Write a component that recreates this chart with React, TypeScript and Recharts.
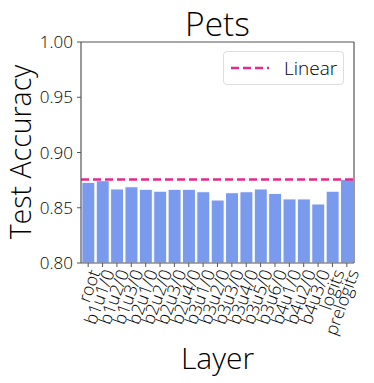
import React from 'react';
import { BarChart, Bar, XAxis, YAxis, ReferenceLine } from 'recharts';

const layers = ['root', 'b1u1/0', 'b1u2/0', 'b1u3/0', 'b2u1/0', 'b2u2/0', 'b2u3/0', 'b2u4/0', 'b3u1/0', 'b3u2/0', 'b3u3/0', 'b3u4/0', 'b3u5/0', 'b3u6/0', 'b4u1/0', 'b4u2/0', 'b4u3/0', 'logits', 'prelogits'];
const accuracy = [0.873, 0.8745, 0.867, 0.869, 0.8667, 0.865, 0.8667, 0.8667, 0.8645, 0.857, 0.8636, 0.8645, 0.867, 0.863, 0.858, 0.858, 0.8534, 0.865, 0.8755];
const linearAccuracy = 0.8755;
const yTicks = [0.8, 0.85, 0.9, 0.95, 1.0];

const data = layers.map((name, i) => ({ name, acc: accuracy[i] }));

const FONT = '"Open Sans", sans-serif';
const AXIS = '#555';
const BAR = '#7a9aed';
const PINK = '#e7298a';

const XTick = (props: any) => {
  const { x, y, payload } = props;
  return (
    <g transform={`translate(${x + 3},${y})`}>
      <text
        x={0}
        y={0}
        dy={10}
        textAnchor="end"
        transform="rotate(-70)"
        fontFamily={FONT}
        fontWeight={350}
        fontSize={17.5}
        fill="#000"
      >
        {payload.value}
      </text>
    </g>
  );
};

const YTick = (props: any) => {
  const { x, y, payload } = props;
  return (
    <text x={x} y={y} dy={6} textAnchor="end" fontFamily={FONT} fontWeight={350} fontSize={17} fill="#000">
      {Number(payload.value).toFixed(2)}
    </text>
  );
};

export default function App() {
  return (
    <div style={{ position: 'absolute', left: 0, top: 0, width: 374, height: 383, background: '#fff', fontFamily: FONT }}>
      <BarChart width={374} height={383} data={data} margin={{ top: 41, right: 19, bottom: 0, left: 0 }} barCategoryGap="6%">
        <XAxis
          dataKey="name"
          height={120}
          interval={0}
          tick={<XTick />}
          tickSize={4}
          tickMargin={2}
          stroke={AXIS}
          axisLine={{ stroke: AXIS, strokeWidth: 1.2 }}
          tickLine={{ stroke: AXIS }}
        />
        <XAxis xAxisId="top" orientation="top" dataKey="name" height={1} tick={false} tickLine={false} stroke={AXIS} axisLine={{ stroke: AXIS, strokeWidth: 1.2 }} />
        <YAxis
          width={81}
          domain={[0.8, 1.0]}
          ticks={yTicks}
          allowDataOverflow
          tick={<YTick />}
          tickSize={4}
          tickMargin={4}
          stroke={AXIS}
          axisLine={{ stroke: AXIS, strokeWidth: 1.2 }}
          tickLine={{ stroke: AXIS }}
        />
        <YAxis yAxisId="right" orientation="right" width={1} domain={[0, 1]} tick={false} tickLine={false} stroke={AXIS} axisLine={{ stroke: AXIS, strokeWidth: 1.2 }} />
        <Bar dataKey="acc" fill={BAR} stroke="#fff" strokeWidth={1} isAnimationActive={false} />
        <ReferenceLine y={linearAccuracy} stroke={PINK} strokeWidth={2.5} strokeDasharray="8 4" />
      </BarChart>
      <svg width={374} height={383} style={{ position: 'absolute', left: 0, top: 0, pointerEvents: 'none' }}>
        <text x={217.5} y={36} textAnchor="middle" fontFamily={FONT} fontWeight={300} fontSize={33.5} fill="#000">Pets</text>
        <text x={30.5} y={152} transform="rotate(-90, 30.5, 152)" textAnchor="middle" fontFamily={FONT} fontWeight={300} fontSize={28.5} fill="#000">Test Accuracy</text>
        <text x={217.5} y={369} textAnchor="middle" fontFamily={FONT} fontWeight={300} fontSize={30} fill="#000">Layer</text>
      </svg>
      <div style={{ position: 'absolute', left: 223, top: 51, width: 121, height: 34, boxSizing: 'border-box', border: '1px solid #ddd', borderRadius: 4, background: 'rgba(255,255,255,0.8)' }}>
        <svg width={40} height={32} style={{ position: 'absolute', left: 6, top: 0 }}>
          <line x1={1} x2={39} y1={16} y2={16} stroke={PINK} strokeWidth={2.5} strokeDasharray="8 4" />
        </svg>
        <svg width={60} height={32} style={{ position: 'absolute', left: 59, top: 0 }}>
          <text x={1} y={23} fontFamily={FONT} fontWeight={350} fontSize={19} fill="#000">Linear</text>
        </svg>
      </div>
    </div>
  );
}
